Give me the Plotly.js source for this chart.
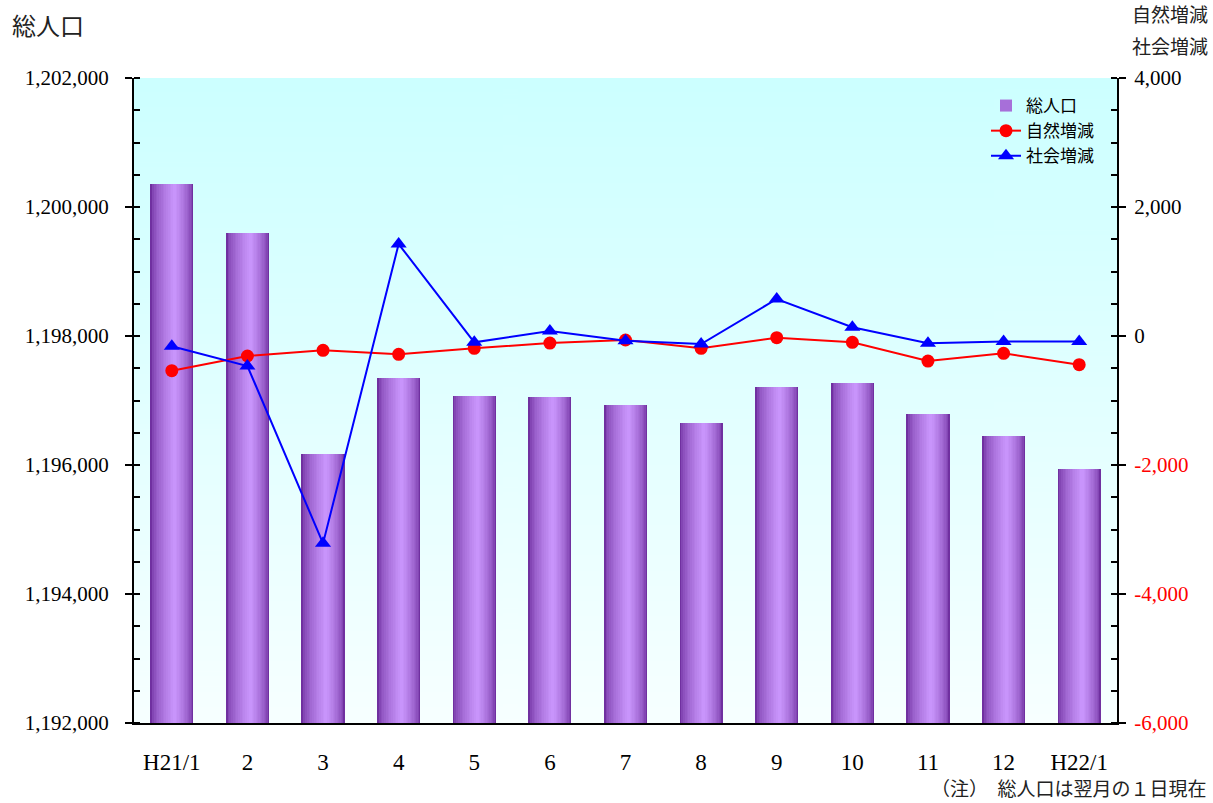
<!DOCTYPE html>
<html>
<head>
<meta charset="utf-8">
<script src="https://cdn.plot.ly/plotly-3.0.1.min.js"></script>
<style>html,body{margin:0;padding:0;background:#fff;}#chart{width:1213px;height:803px;}</style>
</head>
<body>
<div id="chart"></div>
<script>
// ---- data ----
const categories = ['H21/1','2','3','4','5','6','7','8','9','10','11','12','H22/1'];
const totalPopulation = [1200357,1199598,1196173,1197351,1197072,1197057,1196933,1196654,1197212,1197273,1196793,1196452,1195941];
const naturalChange = [-538,-310,-222,-284,-191,-109,-62,-191,-26,-98,-388,-268,-445];
const socialChange  = [-160,-465,-3215,1426,-98,78,-73,-124,574,135,-113,-85,-85];
const leftTickVals = [1192000,1194000,1196000,1198000,1200000,1202000];
const rightTickVals = [-6000,-4000,-2000,0,2000,4000];
const rightTickText = ['<span style="color:#ff0000">-6,000</span>','<span style="color:#ff0000">-4,000</span>','<span style="color:#ff0000">-2,000</span>','0','2,000','4,000'];

// ---- styling helpers ----
const dark = [112,48,160], light = [204,153,255];
function mix(t){ return 'rgb(' + dark.map((d,i)=>Math.round(d+(light[i]-d)*t)).join(',') + ')'; }

const traces = [];
const N = 14, half = 0.285, peak = 0.04;
for (let k = 0; k < N; k++) {
  const t = k / N;
  const L = -half + t * (peak + half);
  const R = half - t * (half - peak);
  traces.push({
    type: 'bar', x: categories, y: totalPopulation, yaxis: 'y',
    name: '総人口', legendgroup: 'a',
    width: R - L, offset: L,
    marker: {color: mix(Math.pow(t, 0.6)), line: {width: 0}},
    showlegend: k === 6, hoverinfo: 'skip'
  });
}
traces.push({
  type: 'scatter', mode: 'lines+markers', x: categories, y: naturalChange, yaxis: 'y2',
  name: '自然増減', legendgroup: 'b',
  line: {color: '#ff0000', width: 2}, marker: {symbol: 'circle', size: 13, color: '#ff0000'}
});
traces.push({
  type: 'scatter', mode: 'lines+markers', x: categories, y: socialChange, yaxis: 'y2',
  name: '社会増減', legendgroup: 'c',
  line: {color: '#0000ff', width: 2}, marker: {symbol: 'triangle-up', size: 14, color: '#0000ff'}
});

// background gradient for plot area
const cv = document.createElement('canvas'); cv.width = 4; cv.height = 256;
const cx = cv.getContext('2d');
const g = cx.createLinearGradient(0,0,0,256);
g.addColorStop(0,'#ccffff'); g.addColorStop(1,'#f7ffff');
cx.fillStyle = g; cx.fillRect(0,0,4,256);
const bgSrc = cv.toDataURL('image/png');

const L0 = 134, R0 = 1117, T0 = 78, B0 = 723;
const W = R0 - L0, H = B0 - T0;
const px = v => (v - L0) / W, py = v => (B0 - v) / H;

const serif = 'Liberation Serif, Times New Roman, serif';
const cjk = 'Noto Sans CJK JP, sans-serif';

const layout = {
  width: 1213, height: 803,
  margin: {l: L0, r: 1213 - R0, t: T0, b: 803 - B0, pad: 0},
  paper_bgcolor: '#ffffff', plot_bgcolor: 'rgba(0,0,0,0)',
  barmode: 'overlay', bargap: 0,
  showlegend: true,
  legend: {x: px(986), y: py(88), xanchor: 'left', yanchor: 'top',
           bgcolor: 'rgba(0,0,0,0)', font: {family: cjk, size: 17, color: '#000'},
           tracegroupgap: 9, traceorder: 'normal'},
  xaxis: {type: 'category', showgrid: false, zeroline: false,
          showline: true, linecolor: '#000', linewidth: 2, ticks: '',
          tickfont: {family: serif, size: 23, color: '#000'}, ticklabelstandoff: 17,
          range: [-0.5, 12.5]},
  yaxis: {range: [1192000, 1202000], tickvals: leftTickVals, tickformat: ',d',
          showgrid: false, zeroline: false, showline: true, linecolor: '#000', linewidth: 2,
          ticks: 'outside', ticklen: 7, tickwidth: 2, tickcolor: '#000',
          minor: {dtick: 500, ticks: 'inside', ticklen: 6, tickwidth: 2, tickcolor: '#000'},
          tickfont: {family: serif, size: 21, color: '#000'}, ticklabelstandoff: 12},
  yaxis2: {overlaying: 'y', side: 'right', range: [-6000, 4000],
          tickvals: rightTickVals, ticktext: rightTickText,
          showgrid: false, zeroline: false, showline: true, linecolor: '#000', linewidth: 2,
          ticks: 'outside', ticklen: 7, tickwidth: 2, tickcolor: '#000',
          minor: {dtick: 500, ticks: 'inside', ticklen: 6, tickwidth: 2, tickcolor: '#000'},
          tickfont: {family: serif, size: 21, color: '#000'}, ticklabelstandoff: 4},
  images: [{source: bgSrc, xref: 'paper', yref: 'paper', x: 0, y: 1, sizex: 1, sizey: 1,
            sizing: 'stretch', xanchor: 'left', yanchor: 'top', layer: 'below'}],
  annotations: [
    {text: '総人口', xref: 'paper', yref: 'paper', x: px(10), y: py(25), xanchor: 'left', yanchor: 'middle',
     showarrow: false, font: {family: cjk, size: 24, color: '#222'}},
    {text: '自然増減', xref: 'paper', yref: 'paper', x: px(1130), y: py(13), xanchor: 'left', yanchor: 'middle',
     showarrow: false, font: {family: cjk, size: 19, color: '#222'}},
    {text: '社会増減', xref: 'paper', yref: 'paper', x: px(1130), y: py(45), xanchor: 'left', yanchor: 'middle',
     showarrow: false, font: {family: cjk, size: 19, color: '#222'}},
    {text: '（注）　総人口は翌月の１日現在', xref: 'paper', yref: 'paper', x: px(1209), y: py(787), xanchor: 'right', yanchor: 'middle',
     showarrow: false, font: {family: cjk, size: 19, color: '#222'}}
  ]
};

Plotly.newPlot('chart', traces, layout, {displayModeBar: false, staticPlot: true});
</script>
</body>
</html>
